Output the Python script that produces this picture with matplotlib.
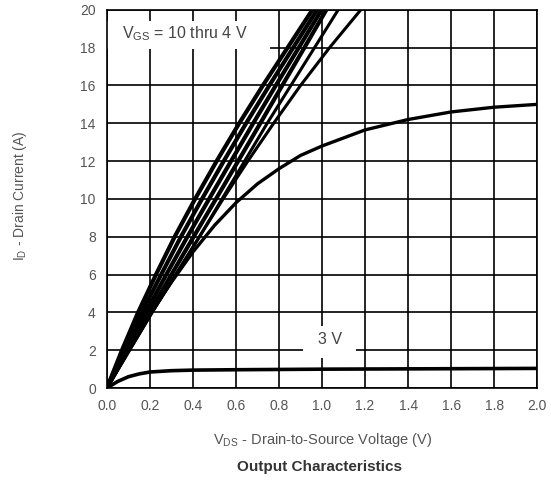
import matplotlib
matplotlib.use("Agg")
import matplotlib.pyplot as plt
from matplotlib.patches import Rectangle

plt.rcParams['font.family'] = ['Liberation Sans', 'DejaVu Sans']

# curves: drain current levels and the voltage where each curve reaches them
i_levels = [0, 2, 4, 6, 8, 10, 12, 14, 16, 18, 20]
v_10v = [0, 0.07, 0.145, 0.228, 0.315, 0.41, 0.51, 0.615, 0.725, 0.84, 0.955]
v_8v = [0, 0.079, 0.162, 0.252, 0.344, 0.442, 0.543, 0.647, 0.755, 0.866, 0.977]
v_7v = [0, 0.089, 0.18, 0.276, 0.374, 0.475, 0.577, 0.68, 0.785, 0.892, 0.998]
v_6v = [0, 0.098, 0.197, 0.30, 0.403, 0.507, 0.61, 0.713, 0.815, 0.918, 1.02]
v_5v = [0, 0.105, 0.21, 0.32, 0.43, 0.535, 0.64, 0.745, 0.855, 0.965, 1.075]
v_45v = [0, 0.105, 0.21, 0.32, 0.43, 0.54, 0.655, 0.775, 0.9, 1.035, 1.18]

v_4v = [0, 0.1, 0.2, 0.3, 0.4, 0.5, 0.6, 0.7, 0.8, 0.9, 1.0, 1.2, 1.4, 1.6, 1.8, 2.0]
i_4v = [0, 2.0, 3.9, 5.6, 7.2, 8.6, 9.8, 10.8, 11.6, 12.3, 12.8, 13.65, 14.2, 14.6, 14.85, 15.0]

v_3v = [0, 0.05, 0.1, 0.15, 0.2, 0.3, 0.4, 0.6, 1.0, 1.5, 2.0]
i_3v = [0, 0.35, 0.6, 0.75, 0.85, 0.92, 0.95, 0.97, 1.0, 1.02, 1.04]

x_ticks = [0.0, 0.2, 0.4, 0.6, 0.8, 1.0, 1.2, 1.4, 1.6, 1.8, 2.0]
y_ticks = [0, 2, 4, 6, 8, 10, 12, 14, 16, 18, 20]

fig = plt.figure(figsize=(5.51, 4.90), dpi=100)
ax = fig.add_axes([0.194, 0.208, 0.781, 0.772])

ax.set_xlim(0, 2.0)
ax.set_ylim(0, 20)
ax.set_xticks(x_ticks)
ax.set_yticks(y_ticks)
ax.set_xticklabels([f"{t:.1f}" for t in x_ticks])
ax.tick_params(length=0, labelsize=10, labelcolor='#555555', pad=8)
ax.grid(True, color='black', linewidth=1.2)
ax.set_axisbelow(True)
for s in ax.spines.values():
    s.set_color('black')
    s.set_linewidth(1.2)

for v in [v_10v, v_8v, v_7v, v_6v]:
    ax.plot(v, i_levels, color='black', linewidth=3.0, zorder=3)
ax.plot(v_5v, i_levels, color='black', linewidth=2.2, zorder=3)
ax.plot(v_45v, i_levels, color='black', linewidth=2.2, zorder=3)
ax.plot(v_4v, i_4v, color='black', linewidth=2.4, zorder=3)
ax.plot(v_3v, i_3v, color='black', linewidth=2.6, zorder=3)

# white label boxes that cut the grid
ax.add_patch(Rectangle((0.0, 17.93), 0.76, 1.5, facecolor='white', edgecolor='none', zorder=2))
ax.text(0.07, 18.75, r'V$_{\mathregular{GS}}$ = 10 thru 4 V', fontsize=11.5, color='#444444',
        va='center', ha='left', zorder=4)
ax.add_patch(Rectangle((0.91, 1.6), 0.25, 1.7, facecolor='white', edgecolor='none', zorder=2))
ax.text(1.037, 2.55, '3 V', fontsize=11.5, color='#444444', va='center', ha='center', zorder=4)

fig.text(0.036, 0.6, r'I$_{\mathregular{D}}$ - Drain Current (A)', rotation=90, fontsize=10,
         color='#555555', ha='center', va='center')
fig.text(0.585, 0.102, r'V$_{\mathregular{DS}}$ - Drain-to-Source Voltage (V)', fontsize=10.5,
         color='#555555', ha='center', va='center')
fig.text(0.58, 0.047, 'Output Characteristics', fontsize=11, fontweight='bold',
         color='#333333', ha='center', va='center')

fig.savefig('out.png', dpi=100)
